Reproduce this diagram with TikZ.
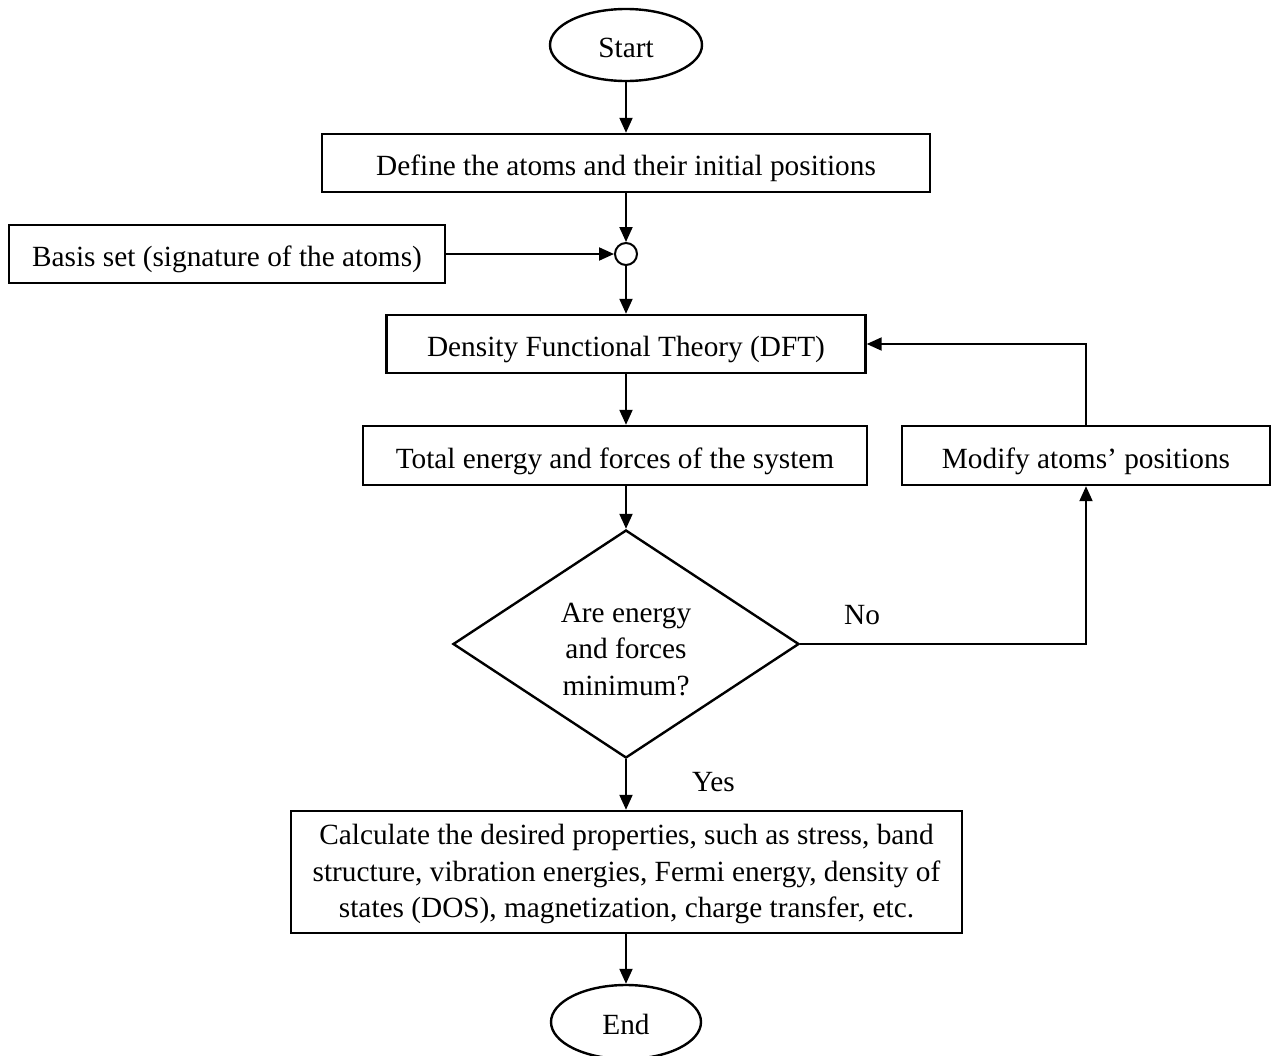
\documentclass[tikz,border=0pt]{standalone}
\usepackage{fontspec}
\setmainfont{Liberation Serif}
\usetikzlibrary{shapes.geometric,arrows.meta}
\begin{document}
\begin{tikzpicture}[x=1pt,y=-1pt,
  every node/.style={font=\fontsize{29.3}{36.5}\selectfont, line width=2.4pt},
  oneline/.style={text height=25pt, text depth=0pt},
  procbox/.style={draw, rectangle, inner sep=0pt, align=center},
  term/.style={draw, ellipse, inner sep=0pt, oneline},
  decision/.style={draw, diamond, inner sep=0pt, aspect=1.52, align=center},
  junction/.style={draw, circle, inner sep=0pt, minimum size=22pt, line width=2pt},
  flow/.style={line width=2pt, -{Triangle[length=15pt,width=13pt]}}
]
\useasboundingbox (0,0) rectangle (1274,1055);
\fill[white] (0,0) rectangle (1274,1055);

\node[term, minimum width=152pt, minimum height=72pt] (start) at (626,45) {Start};
\node[procbox, oneline, minimum width=608pt, minimum height=58pt] (define) at (626,163) {Define the atoms and their initial positions};
\node[junction] (circ) at (626,254) {};
\node[procbox, oneline, minimum width=436pt, minimum height=58pt] (basis) at (227,254) {Basis set (signature of the atoms)};
\node[procbox, oneline, minimum width=479pt, minimum height=58pt] (dft) at (626,344) {Density Functional Theory (DFT)};
\node[procbox, oneline, minimum width=504pt, minimum height=59pt] (total) at (615,455.5) {Total energy and forces of the system};
\node[procbox, oneline, minimum width=368pt, minimum height=59pt] (modify) at (1086,455.5) {Modify atoms’ positions};
\node[decision, minimum width=346pt, minimum height=228pt] (dec) at (626,644) {\rule{0pt}{30pt}Are energy\\and forces\\minimum?};
\node[procbox, minimum width=671pt, minimum height=122pt] (calc) at (626.5,872) {\rule{0pt}{25pt}Calculate the desired properties, such as stress, band\\structure, vibration energies, Fermi energy, density of\\states (DOS), magnetization, charge transfer, etc.};
\node[term, minimum width=150pt, minimum height=74pt] (end) at (626,1022) {End};
\node[fill=white, inner sep=0pt, minimum width=95pt, minimum height=56pt] (yes) at (713.5,782) {Yes};
\node (no) at (862,615) {No};

\draw[flow] (start.south) -- (define.north);
\draw[flow] (define.south) -- (circ.north);
\draw[flow] (basis.east) -- (circ.west);
\draw[flow] (circ.south) -- (dft.north);
\draw[flow] (dft.south) -- (dft.south |- total.north);
\draw[flow] (dec.north |- total.south) -- (dec.north);
\draw[flow] (dec.east) -| (modify.south);
\draw[flow] (modify.north) |- (dft.east);
\draw[flow] (dec.south) -- (dec.south |- calc.north);
\draw[flow] (dec.south |- calc.south) -- (end.north);
\end{tikzpicture}
\end{document}
